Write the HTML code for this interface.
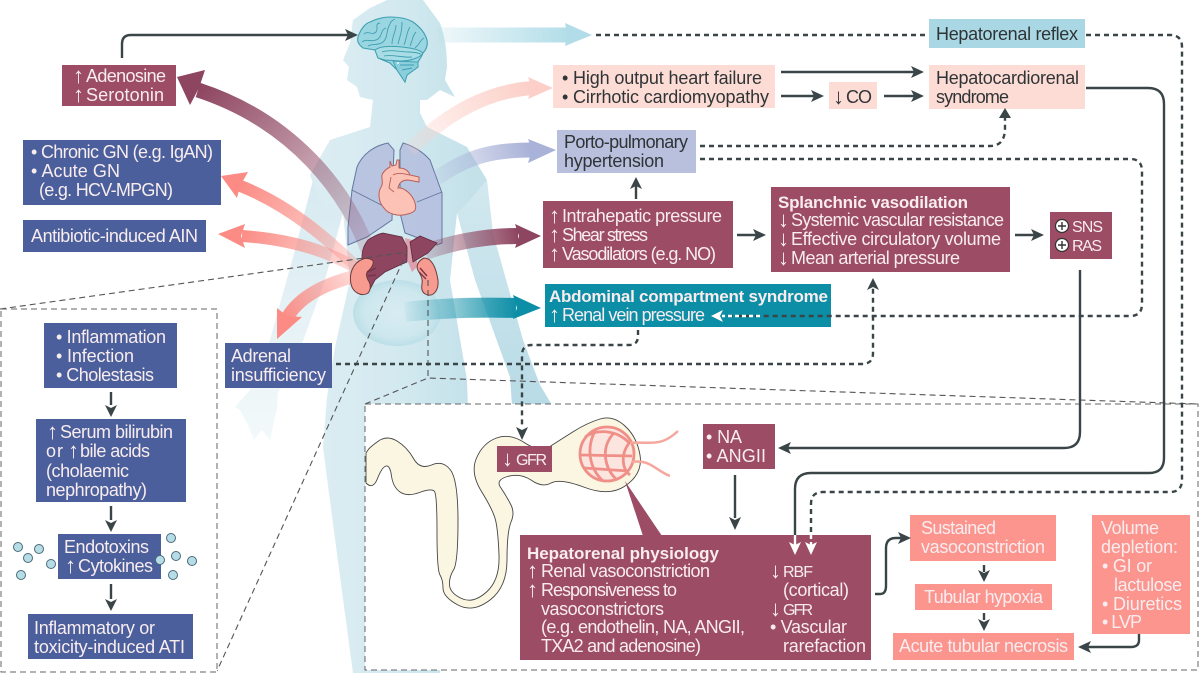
<!DOCTYPE html>
<html><head><meta charset="utf-8"><title>Hepatorenal diagram</title>
<style>
html,body{margin:0;padding:0;background:#fff}
svg{display:block}
text{font-family:"Liberation Sans",sans-serif;font-size:18px;fill:#f8ecef}
.d{fill:#2f3436}
.b{font-weight:bold;font-size:17px}
.a{font-size:22px;transform:translateX(6px)}
.s{font-size:16px}
.c{fill:none;stroke:#3a4548;stroke-width:2.4}
.dash{fill:none;stroke:#3a4548;stroke-width:2.4;stroke-dasharray:5 4}
.t{fill:none;stroke:#555;stroke-width:1.1;stroke-dasharray:6 4}
.h{fill:#3a4548}
</style></head><body>
<svg width="1200" height="673" viewBox="0 0 1200 673" xmlns="http://www.w3.org/2000/svg">
<defs>
<linearGradient id="bd" gradientUnits="userSpaceOnUse" x1="323" y1="0" x2="470" y2="0"><stop offset="0" stop-color="#dbedf3"/><stop offset=".55" stop-color="#d2e9ef"/><stop offset="1" stop-color="#c4e1ea"/></linearGradient>
<linearGradient id="arm" x1="0" y1="180" x2="0" y2="440" gradientUnits="userSpaceOnUse"><stop offset="0" stop-color="#d6eaf1"/><stop offset=".55" stop-color="#e6f2f6"/><stop offset="1" stop-color="#f3f9fa"/></linearGradient>
<linearGradient id="arm2" x1="0" y1="150" x2="0" y2="405" gradientUnits="userSpaceOnUse"><stop offset="0" stop-color="#d6eaf1"/><stop offset="1" stop-color="#b8dbe6"/></linearGradient>
<radialGradient id="st"><stop offset="0" stop-color="#d8ecf2"/><stop offset=".75" stop-color="#cde7ee"/><stop offset="1" stop-color="#bcdfe8"/></radialGradient>
<linearGradient id="g1" gradientUnits="userSpaceOnUse" x1="438" y1="0" x2="570" y2="0"><stop offset="0" stop-color="#b2dde8" stop-opacity=".2"/><stop offset="1" stop-color="#b2dde8"/></linearGradient>
<linearGradient id="g2" gradientUnits="userSpaceOnUse" x1="372" y1="262" x2="200" y2="88"><stop offset="0" stop-color="#8e4560" stop-opacity=".12"/><stop offset="1" stop-color="#8e4560"/></linearGradient>
<linearGradient id="g3" gradientUnits="userSpaceOnUse" x1="372" y1="282" x2="238" y2="185"><stop offset="0" stop-color="#fb8b84" stop-opacity=".15"/><stop offset="1" stop-color="#fb8b84"/></linearGradient>
<linearGradient id="g4" gradientUnits="userSpaceOnUse" x1="375" y1="280" x2="240" y2="236"><stop offset="0" stop-color="#fb8b84" stop-opacity=".15"/><stop offset="1" stop-color="#fb8b84"/></linearGradient>
<linearGradient id="g5" gradientUnits="userSpaceOnUse" x1="375" y1="270" x2="282" y2="320"><stop offset="0" stop-color="#fb8b84" stop-opacity=".15"/><stop offset="1" stop-color="#fb8b84"/></linearGradient>
<linearGradient id="g6" gradientUnits="userSpaceOnUse" x1="410" y1="150" x2="530" y2="88"><stop offset="0" stop-color="#fcd0c8" stop-opacity=".2"/><stop offset="1" stop-color="#fcd0c8"/></linearGradient>
<linearGradient id="g7" gradientUnits="userSpaceOnUse" x1="437" y1="178" x2="530" y2="150"><stop offset="0" stop-color="#a9b2d8" stop-opacity=".2"/><stop offset="1" stop-color="#a9b2d8"/></linearGradient>
<linearGradient id="g8" gradientUnits="userSpaceOnUse" x1="425" y1="250" x2="518" y2="236"><stop offset="0" stop-color="#8e4560" stop-opacity=".2"/><stop offset="1" stop-color="#8e4560"/></linearGradient>
<linearGradient id="g9" gradientUnits="userSpaceOnUse" x1="405" y1="312" x2="518" y2="308"><stop offset="0" stop-color="#0c8ea6" stop-opacity=".05"/><stop offset="1" stop-color="#0c8ea6"/></linearGradient>
</defs>

<!-- body: arms -->
<path fill="url(#arm)" d="M313,180 L343,213 L325,280 L290,377 L278,392 L277,408 L270,440 L262,430 L254,440 L248,425 L240,410 L235,407 L250,390 L270,340 L295,250 Z"/>
<path fill="url(#arm2)" d="M470,165 L487,180 L493,233 L523,340 L540,385 L552,405 L512,405 L510,377 L475,280 L457,213 Z"/>
<!-- body: head and torso -->
<path fill="url(#bd)" d="M353,20 L370,8 L387,0 L423,0 L440,23 C446,40 447,55 447,67 L445,80 L455,97 L440,90 L427,100 L420,100 L420,113 L427,127 L467,147 L487,180 L470,200 L457,213 L450,280 L467,380 L468,410 L440,673 L353,673 Q335,540 323,447 L327,397 L335,347 L350,280 L343,213 L320,200 L310,175 L330,140 L370,127 L373,100 L360,97 L357,87 L347,80 L349,67 L343,60 L350,43 Z"/>
<ellipse cx="397" cy="313" rx="44" ry="33" fill="url(#st)"/>

<!-- lungs -->
<path fill="#b5c0de" fill-opacity=".92" stroke="#64779f" stroke-width="1" d="M388,143 C373,146 362,155 357,167 L352,190 L348,227 L348,245 L367,237 L392,220 L393,173 L394,150 Z"/>
<path fill="#b5c0de" fill-opacity=".92" stroke="#64779f" stroke-width="1" d="M403,143 C413,146 423,152 430,160 L442,193 L442,243 L437,245 L405,233 L400,213 L400,173 L400,150 Z"/>
<path fill="none" stroke="#64779f" stroke-width=".9" d="M352,190 L387,208 M442,192 L417,202"/>

<!-- big arrows -->
<path fill="none" stroke="url(#g1)" stroke-width="15" d="M438,35 H568"/>
<polygon fill="#b2dde8" points="592,35 565,23 567,35 565,46"/>
<path fill="none" stroke="url(#g2)" stroke-width="15" d="M372,262 C350,190 290,120 198,90"/>
<polygon fill="#8e4560" points="177,77 205,70 199,88 190,105"/>
<path fill="none" stroke="url(#g3)" stroke-width="12" d="M372,282 C330,240 290,205 238,185"/>
<polygon fill="#fb8b84" points="221,176 248,172 240,186 237,198"/>
<path fill="none" stroke="url(#g4)" stroke-width="12" d="M375,280 C340,255 300,240 242,236"/>
<polygon fill="#fb8b84" points="218,234 245,224 241,236 245,248"/>
<path fill="none" stroke="url(#g5)" stroke-width="13" d="M375,272 C330,280 300,295 287,318"/>
<polygon fill="#fb8b84" points="277,339 277,308 287,316 302,317"/>
<path fill="none" stroke="url(#g6)" stroke-width="14" d="M410,150 C440,120 480,92 532,88"/>
<polygon fill="#fcd0c8" points="553,88 528,77 532,88 528,99"/>
<path fill="none" stroke="url(#g7)" stroke-width="15" d="M437,178 C470,155 495,150 532,150"/>
<polygon fill="#a9b2d8" points="556,150 528,139 532,150 528,163"/>
<path fill="none" stroke="url(#g8)" stroke-width="16" d="M425,252 C460,240 490,236 518,236"/>
<polygon fill="#8e4560" points="541,236 515,224 519,236 515,248"/>
<path fill="none" stroke="url(#g9)" stroke-width="20" d="M405,312 C440,308 480,307 516,308"/>
<polygon fill="#0c8ea6" points="541,308 513,295 517,308 513,319"/>

<!-- heart -->
<path fill="#fcc2b5" stroke="#b8605a" stroke-width="1" d="M390,161 L392,166 L396,165 L397,160 L399,160 L399,168 C404,168 408,170 410,175 L419,177 L419,182 L408,180 C402,180 399,183 398,188 C404,187 413,195 415,203 C417,210 415,212 408,214 C398,217 388,214 384,208 C378,202 378,192 381,187 C384,183 381,178 382,175 C384,170 388,168 390,167 Z"/>
<path fill="none" stroke="#b8605a" stroke-width=".9" d="M391,177 L389,188 L394,192 M393,175 C398,172 405,174 410,175"/>

<!-- pancreas strip -->
<polygon fill="#dda0ad" points="405,238 412,240 418,266 412,272 408,262"/>
<!-- liver -->
<path fill="#8e4560" stroke="#5f2b3f" stroke-width=".8" d="M362,257 C362,247 366,243 368,240 C374,236 378,234 383,233 L402,237 L407,247 L407,262 L400,265 L385,272 L375,280 L368,293 L362,280 Z"/>
<path fill="#8e4560" stroke="#5f2b3f" stroke-width=".8" d="M410,242 L420,236 L437,243 L428,253 L413,262 Z"/>
<!-- kidneys -->
<path fill="#f79b91" stroke="#6e3a3a" stroke-width="1" d="M363,259 C352,263 349,275 351,284 C353,293 362,297 368,293 C371,290 371,284 368,280 C366,276 366,273 368,271 C372,268 375,262 372,260 C369,258 366,258 363,259 Z"/>
<path fill="#f79b91" stroke="#6e3a3a" stroke-width="1" d="M424,258 C432,258 436,268 438,280 C439,290 434,296 428,295 C423,294 421,290 422,284 C423,279 421,276 419,272 C416,268 416,262 424,258 Z"/>
<path fill="none" stroke="#7a3346" stroke-width="1.4" d="M367,272 L376,268 M368,276 L376,275 M419,272 L426,279 M420,268 L427,276"/>

<!-- brain -->
<path fill="#9ad6e1" stroke="#3f9fb1" stroke-width="1.1" d="M358,37 C361,28 366,23 370,22 C378,18 384,17 390,17 C400,17 408,19 413,22 C420,27 425,33 427,40 C428,46 426,50 423,53 C421,58 419,60 418,62 L418,67 L407,75 L405,82 L401,76 L397,70 L390,63 L378,58 L375,50 L363,48 C358,44 357,41 358,37 Z"/>
<path fill="#a9dde6" stroke="#3f9fb1" stroke-width="1" d="M375,50 C380,46 392,46 402,47 C412,48 420,50 423,53 C420,58 410,61 400,61 L385,60 L378,58 Z"/>
<path fill="#8ccfdc" stroke="#3f9fb1" stroke-width=".9" d="M393,61 L418,62 L418,67 L407,75 L405,82 L401,76 L397,70 Z"/>
<path fill="none" stroke="#3f9fb1" stroke-width=".9" d="M364,34 C368,30 372,36 376,32 C379,28 374,24 380,23 M362,42 C367,38 372,43 378,39 C383,35 380,30 386,28 M368,46 C373,43 378,46 383,42 C388,38 386,30 390,24 C391,21 393,20 395,19 M392,44 C392,36 396,32 396,25 M398,44 C400,36 402,32 402,22 M404,45 C407,38 406,33 410,27 M410,46 C413,40 412,36 416,32 M415,48 C420,44 420,40 424,38 M382,52 C390,49 400,52 408,52 C414,52 418,53 421,54 M384,56 C392,54 402,58 412,57 M400,65 L414,65 M402,70 L412,68"/>
<circle cx="398" cy="63" r="1" fill="#e8f7fa"/>

<!-- thin zoom lines -->
<path class="t" d="M0,309 L407,252 L217,671"/>
<path class="t" d="M428,280 V378"/>

<!-- panels -->
<rect x="1" y="309" width="216" height="363" fill="#fff" stroke="#666" stroke-width="1" stroke-dasharray="6 4"/>
<rect x="365" y="404" width="833" height="266" fill="#fff" stroke="#666" stroke-width="1" stroke-dasharray="6 4"/>
<path class="t" d="M365,404 L428,378 L1198,404"/>

<!-- nephron -->
<path fill="#fbf6e1" stroke="#444" stroke-width=".9" d="M366,483 Q373,490 377.5,478.5 Q382,467 386,466 Q390,465 391.5,476 Q393,487 400,492 Q407,497 419.5,492.5 Q432,488 434.5,491.5 Q437,495 437,532 Q437,570 440,575 Q443,580 443,588 Q443,597 458,605 Q473,613 490,600 Q507,587 507,560 Q507,532 511,522 Q515,513 511,505 Q507,497 501,488 Q495,480 507.5,476.5 Q520,473 531,480 Q542,488 551,483 Q560,478 585,487.5 Q610,497 626.5,485 Q643,473 640,455 Q637,437 625,426 Q613,415 600,419 Q587,423 573.5,431.5 Q560,440 550,446.5 Q540,453 525,443 Q510,433 496.5,438 Q483,443 476.5,458 Q470,473 481.5,491.5 Q493,510 495.5,520 Q498,530 499,555 Q500,580 486.5,592 Q473,604 461.5,598.5 Q450,593 449.5,585 Q449,577 453.5,570 Q458,563 458,521 Q458,480 450.5,470 Q443,460 431.5,465 Q420,470 413.5,458.5 Q407,447 397,441 Q387,435 378.5,441 Q370,447 368,450 L366,453 Z"/>
<g fill="none" stroke="#ef8f87" stroke-width="2.8">
<circle cx="607" cy="454" r="27" fill="#fde5df"/>
<path d="M585,437 C600,427 620,432 630,444 M581,455 L632,456 M584,468 L628,471 M596,429 C585,449 590,469 603,481 M613,434 C600,449 605,469 617,480 M630,442 C620,454 622,469 630,475"/>
<path stroke="#f6a79d" stroke-width="2.5" d="M630,443 C650,441 660,448 678,431 M632,462 C650,459 655,470 670,476"/>
</g>
<polygon fill="#9d4c66" points="625,481 662,536 643,536"/>

<!-- left boxes -->
<g fill="#4a5f9b">
<rect x="23" y="140" width="198" height="65"/>
<rect x="23" y="220" width="183" height="32"/>
<rect x="225" y="343" width="107" height="45"/>
<rect x="44" y="323" width="133" height="65"/>
<rect x="36" y="419" width="150" height="83"/>
<rect x="58" y="534" width="103" height="45"/>
<rect x="28" y="614" width="165" height="45"/>
</g>
<!-- maroon boxes -->
<g fill="#9d4c66">
<rect x="62" y="65" width="114" height="41"/>
<rect x="543" y="201" width="190" height="67"/>
<rect x="771" y="187" width="239" height="85"/>
<rect x="1050" y="212" width="62" height="47"/>
<rect x="703" y="424" width="72" height="45"/>
<rect x="497" y="446" width="55" height="26"/>
<rect x="520" y="535" width="351" height="125"/>
</g>
<!-- pink / salmon / others -->
<g fill="#fcdcd5">
<rect x="553" y="65" width="222" height="43"/>
<rect x="929" y="65" width="156" height="44"/>
<rect x="829" y="82" width="48" height="27"/>
</g>
<rect x="929" y="19" width="156" height="29" fill="#a9d8e4"/>
<rect x="557" y="130" width="139" height="43" fill="#b9c0de"/>
<rect x="545" y="284" width="286" height="43" fill="#0c8ea6"/>
<g fill="#fb958e">
<rect x="910" y="515" width="146" height="46"/>
<rect x="915" y="584" width="137" height="26"/>
<rect x="893" y="633" width="181" height="27"/>
<rect x="1092" y="515" width="98" height="119"/>
</g>

<!-- dots -->
<g fill="#b6dde6" stroke="#4a6b7a" stroke-width="1">
<circle cx="18" cy="547" r="4.5"/><circle cx="28" cy="558" r="4.5"/><circle cx="39" cy="549" r="4.5"/><circle cx="51" cy="564" r="4.5"/><circle cx="21" cy="575" r="4.5"/>
<circle cx="160" cy="560" r="4.5"/><circle cx="171" cy="538" r="4.5"/><circle cx="176" cy="556" r="4.5"/><circle cx="192" cy="561" r="4.5"/><circle cx="173" cy="575" r="4.5"/>
</g>

<!-- connectors -->
<path class="c" d="M122,58 V44 Q122,35 131,35 H350"/><polygon class="h" points="358,35 345,29 348,35 345,41"/>
<path class="dash" d="M596,35 H929"/>
<path class="dash" d="M1086,35 H1170 Q1182,35 1182,47 V480 Q1182,492 1170,492 H823 Q811,492 811,504 V536"/>
<path class="c" d="M1086,88 H1148 Q1164,88 1164,104 V458 Q1164,473 1149,473 H811 Q795,473 795,489 V536"/>
<path class="c" d="M1080,270 V432 Q1080,448 1064,448 H788"/><polygon class="h" points="778,448 791,442 788,448 791,454"/>
<path class="c" d="M781,72 H916"/><polygon class="h" points="924,72 911,66 914,72 911,78"/>
<path class="c" d="M781,96 H816"/><polygon class="h" points="824,96 811,90 814,96 811,102"/>
<path class="c" d="M884,96 H916"/><polygon class="h" points="924,96 911,90 914,96 911,102"/>
<path class="dash" d="M700,146 H990 Q1005,146 1005,128 V118"/><polygon class="h" points="1005,108 999,118 1011,118"/>
<path class="dash" d="M700,159 H1130 Q1142,159 1142,171 V304 Q1142,316 1130,316 H722"/><polygon class="h" points="711,316 723,310 720,316 723,322"/>
<path class="c" d="M636,199 V186"/><polygon class="h" points="636,177 630,189 636,186 642,189"/>
<path class="c" d="M737,235 H757"/><polygon class="h" points="766,235 753,229 756,235 753,241"/>
<path class="c" d="M1015,235 H1036"/><polygon class="h" points="1044,235 1031,229 1034,235 1031,241"/>
<path class="dash" d="M638,330 V336 Q638,345 629,345 H532 Q522,345 522,355 V426"/><polygon class="h" points="522,440 516,427 522,430 528,427"/>
<path class="dash" d="M336,364 H862 Q873,364 873,353 V288"/><polygon class="h" points="873,278 867,290 873,287 879,290"/>
<path class="c" d="M735,475 V518"/><polygon class="h" points="735,530 729,517 735,520 741,517"/>
<path class="c" d="M875,594 H880 Q886,594 886,586 V548 Q886,538 896,538 H902"/><polygon class="h" points="911,538 898,532 901,538 898,544"/>
<path class="c" d="M984,565 V572"/><polygon class="h" points="984,582 978,570 984,573 990,570"/>
<path class="c" d="M984,613 V620"/><polygon class="h" points="984,631 978,619 984,622 990,619"/>
<path class="c" d="M1139,634 V640 Q1139,647 1131,647 H1087"/><polygon class="h" points="1078,647 1091,641 1088,647 1091,653"/>
<path class="c" d="M111,392 V405"/><polygon class="h" points="111,417 105,405 111,408 117,405"/>
<path class="c" d="M111,506 V520"/><polygon class="h" points="111,532 105,520 111,523 117,520"/>
<path class="c" d="M111,584 V599"/><polygon class="h" points="111,611 105,599 111,602 117,599"/>
<!-- white arrowheads in the hepatorenal box -->
<path fill="none" stroke="#fff" stroke-width="2.4" d="M795,535 V545"/><polygon fill="#fff" points="795,555 789,542 795,545 801,542"/>
<path fill="none" stroke="#fff" stroke-width="2.4" stroke-dasharray="4 3" d="M811,535 V545"/><polygon fill="#fff" points="811,555 805,542 811,545 817,542"/>
<path fill="none" stroke="#fff" stroke-width="2.4" stroke-dasharray="4 3" d="M760,316 H722"/><polygon fill="#fff" points="711,316 723,310 720,316 723,322"/>

<!-- plus circles -->
<g fill="#fff" stroke="#333" stroke-width="1.2"><circle cx="1062" cy="226" r="6.5"/><circle cx="1062" cy="245" r="6.5"/></g>
<path stroke="#333" stroke-width="1.4" d="M1058,226 H1066 M1062,222 V230 M1058,245 H1066 M1062,241 V249"/>

<!-- text -->
<text class="a" x="67" y="83">↑</text><text x="86" y="82" textLength="80">Adenosine</text>
<text class="a" x="67" y="102">↑</text><text x="86" y="101" textLength="78">Serotonin</text>
<text x="31" y="158" textLength="182">• Chronic GN (e.g. IgAN)</text>
<text x="31" y="177" textLength="89">• Acute GN</text>
<text x="39" y="196" textLength="134">(e.g. HCV-MPGN)</text>
<text x="31" y="242" textLength="167">Antibiotic-induced AIN</text>
<text x="231" y="362" textLength="60">Adrenal</text>
<text x="231" y="381" textLength="95">insufficiency</text>
<text x="56" y="343" textLength="110">• Inflammation</text>
<text x="56" y="362" textLength="78">• Infection</text>
<text x="56" y="381" textLength="98">• Cholestasis</text>
<text class="a" x="41" y="439">↑</text><text x="60" y="438" textLength="113">Serum bilirubin</text>
<text x="46" y="457" textLength="17">or</text><text class="a" x="62" y="458">↑</text><text x="80" y="457" textLength="70">bile acids</text>
<text x="46" y="477" textLength="83">(cholaemic</text>
<text x="46" y="496" textLength="101">nephropathy)</text>
<text x="64" y="553" textLength="85">Endotoxins</text>
<text class="a" x="59" y="573">↑</text><text x="78" y="572" textLength="75">Cytokines</text>
<text x="34" y="634" textLength="121">Inflammatory or</text>
<text x="34" y="653" textLength="151">toxicity-induced ATI</text>

<text class="d" x="562" y="84" textLength="200">• High output heart failure</text>
<text class="d" x="562" y="103" textLength="207">• Cirrhotic cardiomyopathy</text>
<text class="d" x="936" y="40" textLength="142">Hepatorenal reflex</text>
<text class="d" x="936" y="84" textLength="143">Hepatocardiorenal</text>
<text class="d" x="936" y="103" textLength="73">syndrome</text>
<text class="a d" x="827" y="104">↓</text><text class="d" x="846" y="103" textLength="26">CO</text>
<text class="d" x="564" y="148" textLength="124">Porto-pulmonary</text>
<text class="d" x="564" y="167" textLength="100">hypertension</text>

<text class="a" x="543" y="223">↑</text><text x="562" y="222" textLength="160">Intrahepatic pressure</text>
<text class="a" x="543" y="242">↑</text><text x="562" y="241" textLength="86">Shear stress</text>
<text class="a" x="543" y="261">↑</text><text x="562" y="260" textLength="154">Vasodilators (e.g. NO)</text>
<text class="b" x="778" y="208" textLength="190">Splanchnic vasodilation</text>
<text class="a" x="772" y="227">↓</text><text x="791" y="226" textLength="213">Systemic vascular resistance</text>
<text class="a" x="772" y="246">↓</text><text x="791" y="245" textLength="210">Effective circulatory volume</text>
<text class="a" x="772" y="265">↓</text><text x="791" y="264" textLength="169">Mean arterial pressure</text>
<text class="s" x="1072" y="232" textLength="31">SNS</text>
<text class="s" x="1072" y="251" textLength="30">RAS</text>
<text class="b" x="549" y="302" textLength="279">Abdominal compartment syndrome</text>
<text class="a" x="543" y="322">↑</text><text x="562" y="321" textLength="143">Renal vein pressure</text>
<text x="706" y="443" textLength="36">• NA</text>
<text x="706" y="462" textLength="60">• ANGII</text>
<text class="a" x="496" y="466">↓</text><text class="s" x="516" y="465" textLength="31">GFR</text>

<text class="b" x="527" y="559" textLength="192">Hepatorenal physiology</text>
<text class="a" x="521" y="578">↑</text><text x="541" y="577" textLength="169">Renal vasoconstriction</text>
<text class="a" x="521" y="597">↑</text><text x="541" y="596" textLength="136">Responsiveness to</text>
<text x="541" y="615" textLength="123">vasoconstrictors</text>
<text x="541" y="633" textLength="204">(e.g. endothelin, NA, ANGII,</text>
<text x="541" y="652" textLength="160">TXA2 and adenosine)</text>
<text class="a" x="764" y="578">↓</text><text class="s" x="783" y="577" textLength="30">RBF</text>
<text x="783" y="596" textLength="66">(cortical)</text>
<text class="a" x="764" y="616">↓</text><text class="s" x="783" y="615" textLength="30">GFR</text>
<text x="770" y="633" textLength="77">• Vascular</text>
<text x="783" y="652" textLength="83">rarefaction</text>

<text x="921" y="534" textLength="75">Sustained</text>
<text x="921" y="553" textLength="124">vasoconstriction</text>
<text x="924" y="603" textLength="119">Tubular hypoxia</text>
<text x="899" y="652" textLength="169">Acute tubular necrosis</text>
<text x="1101" y="534" textLength="58">Volume</text>
<text x="1101" y="553" textLength="77">depletion:</text>
<text x="1102" y="572" textLength="50">• GI or</text>
<text x="1114" y="591" textLength="68">lactulose</text>
<text x="1102" y="610" textLength="80">• Diuretics</text>
<text x="1102" y="628" textLength="40">• LVP</text>
</svg>
</body></html>
